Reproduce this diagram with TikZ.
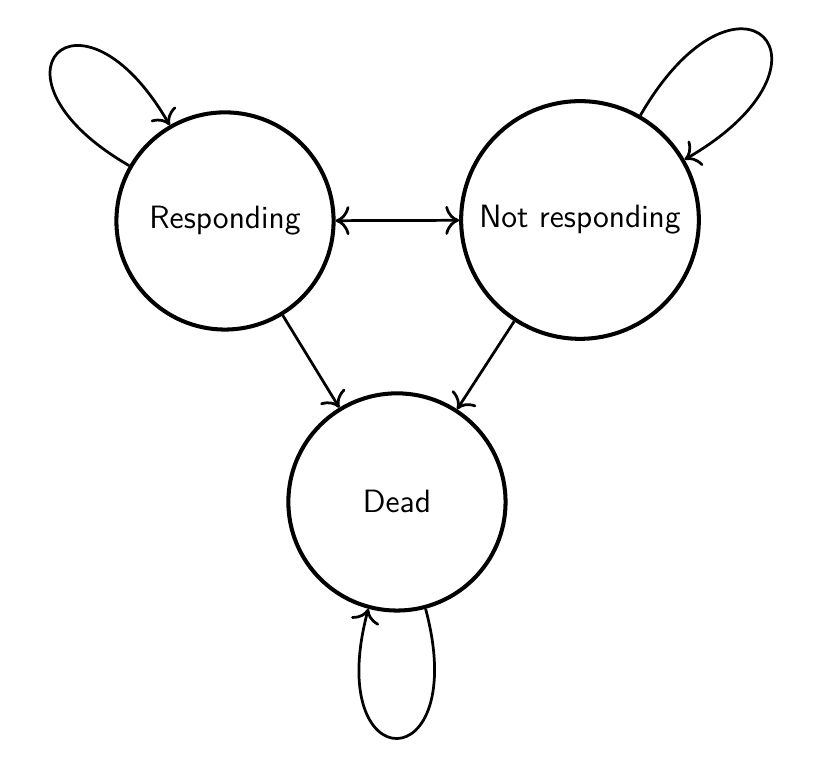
\documentclass[tikz,border=0pt]{standalone}
\usepackage{tikz}
\usetikzlibrary{arrows.meta,positioning}

\begin{document}
\begin{tikzpicture}[
      st/.style={circle, draw=black, line width=1.4pt, font=\sffamily\fontsize{11.2}{13}\selectfont, inner sep=0pt},
      tr/.style={-{To[scale=1.3]}, line width=0.95pt}]
    \useasboundingbox (0,0) rectangle (10.065,-9.540);
    \node[st, minimum size=2.65cm] (resp) at (2.745,-2.696) {Responding};
    \node[st, minimum size=2.9cm] (notresp) at (7.076,-2.684) {Not responding};
    \node[st, minimum size=2.65cm] (dead) at (4.843,-6.124) {Dead};
    \draw[tr, {To[scale=1.3]}-{To[scale=1.3]}] (resp) -- (notresp);
    \draw[tr] (resp) -- (dead); \draw[tr] (notresp) -- (dead);
    \draw[tr] (resp) to[out=150, in=120, looseness=8] (resp);
    \draw[tr] (notresp) to[out=60, in=30, looseness=8] (notresp);
    \draw[tr] (dead) to[out=-75, in=-105, looseness=8] (dead);
  \end{tikzpicture}
\end{document}
